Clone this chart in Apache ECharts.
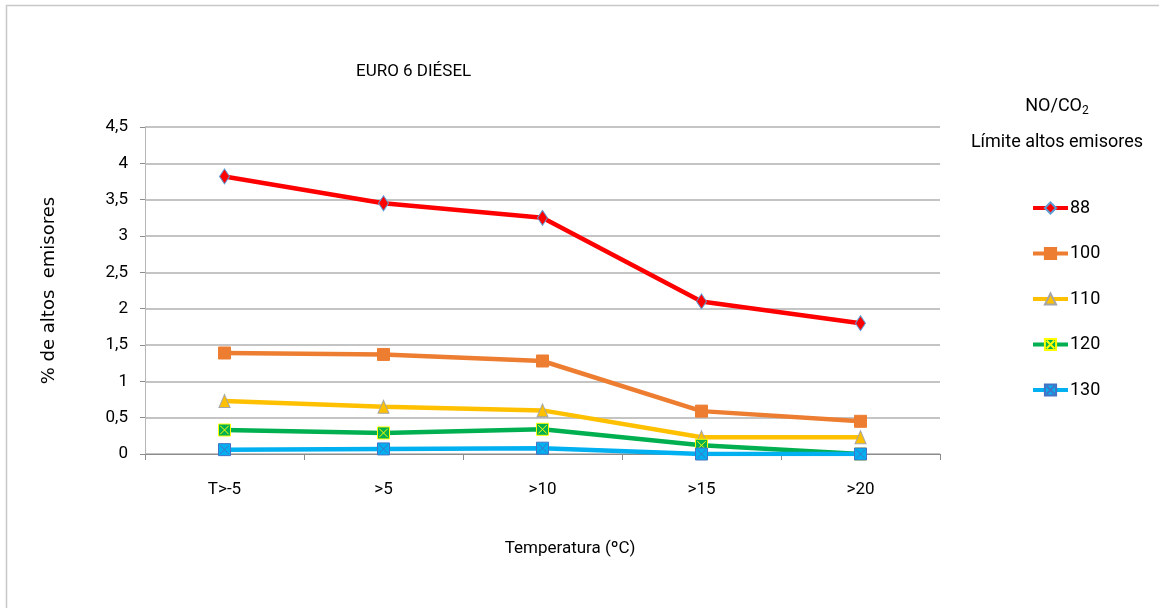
<!DOCTYPE html>
<html>
<head>
<meta charset="utf-8">
<script src="https://cdn.jsdelivr.net/npm/echarts@6/dist/echarts.min.js"></script>
<style>
html,body{margin:0;padding:0;background:#fff;}
#chart{width:1159px;height:608px;}
</style>
</head>
<body>
<div id="chart"></div>
<script>
// Temperature bands on the x axis
const categories = ['T>-5', '>5', '>10', '>15', '>20'];
// Share of high emitters (%) for each NO/CO2 threshold
const s88  = [3.82, 3.45, 3.25, 2.10, 1.80];
const s100 = [1.39, 1.37, 1.28, 0.59, 0.45];
const s110 = [0.73, 0.65, 0.60, 0.23, 0.23];
const s120 = [0.33, 0.29, 0.34, 0.12, 0.00];
const s130 = [0.06, 0.07, 0.08, 0.00, 0.00];
const seriesNames = ['88', '100', '110', '120', '130'];

const FONT = 'Roboto, "Open Sans", sans-serif';
const crossSquare = 'path://M0,0L10,0L10,10L0,10Z M1.5,1.5L8.5,8.5 M8.5,1.5L1.5,8.5';

function lineSeries(name, data, color, symbol, fill, border, size) {
  return {
    name: name,
    type: 'line',
    data: data,
    symbol: symbol,
    symbolSize: size,
    showSymbol: true,
    lineStyle: { color: color, width: 4.5 },
    itemStyle: { color: fill, borderColor: border, borderWidth: 1 },
    emphasis: { disabled: true },
    z: 3
  };
}

const chart = echarts.init(document.getElementById('chart'), null, { renderer: 'canvas' });
chart.setOption({
  animation: false,
  backgroundColor: '#fff',
  grid: { left: 145, right: 219, top: 127, bottom: 154 },
  xAxis: {
    type: 'category',
    data: categories,
    boundaryGap: true,
    axisLine: { lineStyle: { color: '#8c8c8c', width: 1 } },
    axisTick: { show: true, length: 6, lineStyle: { color: '#8c8c8c' } },
    axisLabel: { fontFamily: FONT, fontSize: 17, color: '#000', margin: 27 }
  },
  yAxis: {
    type: 'value',
    min: 0,
    max: 4.5,
    interval: 0.5,
    name: '% de altos  emisores',
    nameLocation: 'middle',
    nameRotate: 90,
    nameGap: 87,
    nameTextStyle: { fontFamily: '"DejaVu Sans", sans-serif', fontSize: 18, color: '#000' },
    axisLine: { show: true, lineStyle: { color: '#b5b5b5', width: 1 } },
    axisTick: { show: true, length: 5, lineStyle: { color: '#8c8c8c' } },
    splitLine: { lineStyle: { color: '#b0b0b0', width: 1.5 } },
    axisLabel: {
      fontFamily: FONT, fontSize: 17, color: '#000', margin: 17,
      formatter: v => String(v).replace('.', ',')
    }
  },
  legend: {
    orient: 'vertical',
    left: 1031,
    top: 199,
    padding: 0,
    itemWidth: 35,
    itemHeight: 14,
    itemGap: 27.5,
    data: seriesNames,
    lineStyle: { width: 4 },
    textStyle: { fontFamily: FONT, fontSize: 18, color: '#000', padding: [0, 0, 0, -3] }
  },
  series: [
    lineSeries('88', s88, '#ff0000', 'diamond', '#ff0000', '#5b9bd5', [10, 15]),
    lineSeries('100', s100, '#ed7d31', 'rect', '#ed7d31', '#ed7d31', 12),
    lineSeries('110', s110, '#ffc000', 'triangle', '#ffc000', '#a5a5a5', [11, 13]),
    lineSeries('120', s120, '#00b050', crossSquare, '#00b050', '#ffff00', 12),
    lineSeries('130', s130, '#00b0f0', crossSquare, '#00b0f0', '#4472c4', 12)
  ],
  graphic: [
    {
      type: 'rect', silent: true, z: -1,
      shape: { x: 6.5, y: 5.5, width: 1170, height: 620 },
      style: { fill: 'none', stroke: '#c8c8c8', lineWidth: 1.5 }
    },
    {
      type: 'text', left: 356, top: 63,
      style: { text: 'EURO 6 DIÉSEL', font: '17px ' + FONT, fill: '#000' }
    },
    {
      type: 'text', x: 570, y: 549, silent: true,
      style: { text: 'Temperatura (ºC)', textAlign: 'center', textVerticalAlign: 'middle', font: '17px ' + FONT, fill: '#000' }
    },
    {
      type: 'text', x: 1057, y: 95,
      style: {
        text: 'NO/CO{sub|2}', textAlign: 'center', font: '18px ' + FONT, fill: '#000',
        rich: { sub: { fontFamily: FONT, fontSize: 12, padding: [10, 0, 0, 0], fill: '#000' } }
      }
    },
    {
      type: 'text', x: 1057, y: 133,
      style: { text: 'Límite altos emisores', textAlign: 'center', font: '18px ' + FONT, fill: '#000' }
    }
  ]
});
</script>
</body>
</html>
